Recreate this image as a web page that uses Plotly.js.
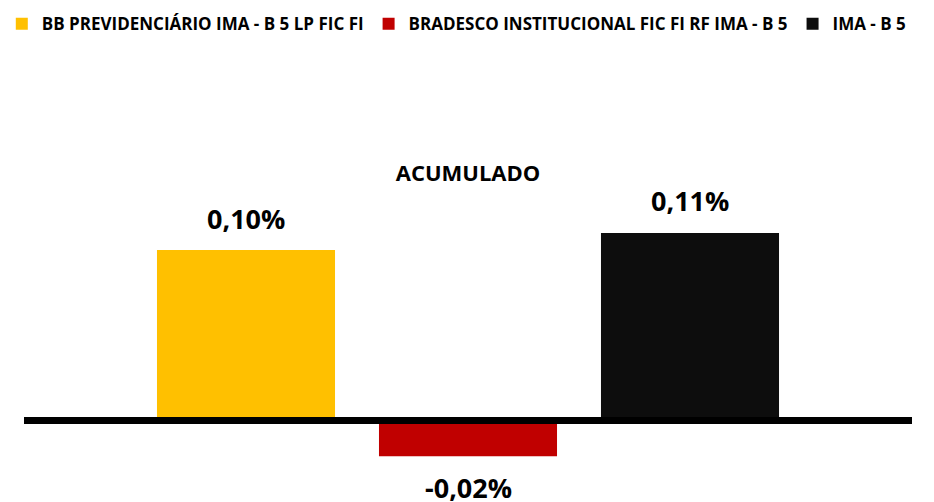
<!DOCTYPE html>
<html><head><meta charset="utf-8">
<script src="https://cdn.plot.ly/plotly-3.0.1.min.js"></script>
<style>html,body{margin:0;padding:0;background:#fff}</style>
</head><body><div id="chart" style="width:934px;height:502px"></div>
<script>
// ---- data ----
const categories = ['ACUMULADO'];
const seriesNames = ['BB PREVIDENCIÁRIO IMA - B 5 LP FIC FI', 'BRADESCO INSTITUCIONAL FIC FI RF IMA - B 5', 'IMA - B 5'];
const bbValues = [0.10];
const bradescoValues = [-0.021];
const imaValues = [0.11];
const seriesValues = [bbValues, bradescoValues, imaValues];
const seriesColors = ['#FFC000', '#C00000', '#0D0D0D'];

// ---- layout params ----
const W = 934, H = 502;
const M = {l: 24, r: 22, t: 190, b: 22};
const bargap = 0.25, bargroupgap = 0.198;
const FONT = 'Open Sans, Lato, Noto Sans, sans-serif';

const fmt = v => v.toFixed(2).replace('.', ',') + '%';

const traces = seriesNames.map((name, i) => ({
  type: 'bar', name: name, x: categories, y: seriesValues[i],
  marker: {color: seriesColors[i]}, hoverinfo: 'skip'
}));

const plotW = W - M.l - M.r;
const slot = plotW * (1 - bargap) / seriesNames.length;
const annotations = [];
seriesValues.forEach((vals, i) => {
  vals.forEach((v, j) => {
    annotations.push({
      x: categories[j], y: v, xref: 'x', yref: 'y',
      text: fmt(v), showarrow: false, yanchor: 'middle',
      xshift: (i - (seriesNames.length - 1) / 2) * slot,
      yshift: v >= 0 ? 32 : -31,
      font: {family: FONT, size: 27, color: '#000', weight: 700}
    });
  });
});

const layout = {
  width: W, height: H,
  margin: {l: M.l, r: M.r, t: M.t, b: M.b, autoexpand: false},
  paper_bgcolor: '#fff', plot_bgcolor: '#fff',
  barmode: 'group', bargap: bargap, bargroupgap: bargroupgap,
  showlegend: true,
  legend: {orientation: 'h', x: -0.025, xanchor: 'left', y: 1.634, yanchor: 'top',
    font: {family: FONT, size: 17, color: '#000', weight: 700}, traceorder: 'normal'},
  xaxis: {side: 'top', showline: false, showgrid: false, zeroline: false, ticks: '',
    tickfont: {family: FONT, size: 22, color: '#000', weight: 700}, ticklabelstandoff: 4},
  yaxis: {range: [-0.0349, 0.13519], showticklabels: false, showgrid: false, zeroline: false, showline: false},
  shapes: [{type: 'line', xref: 'paper', x0: 0, x1: 1, yref: 'y', y0: 0, y1: 0,
    line: {color: '#000', width: 7}, layer: 'above'}],
  annotations: annotations
};

Plotly.newPlot('chart', traces, layout, {displayModeBar: false, staticPlot: true});
</script></body></html>
